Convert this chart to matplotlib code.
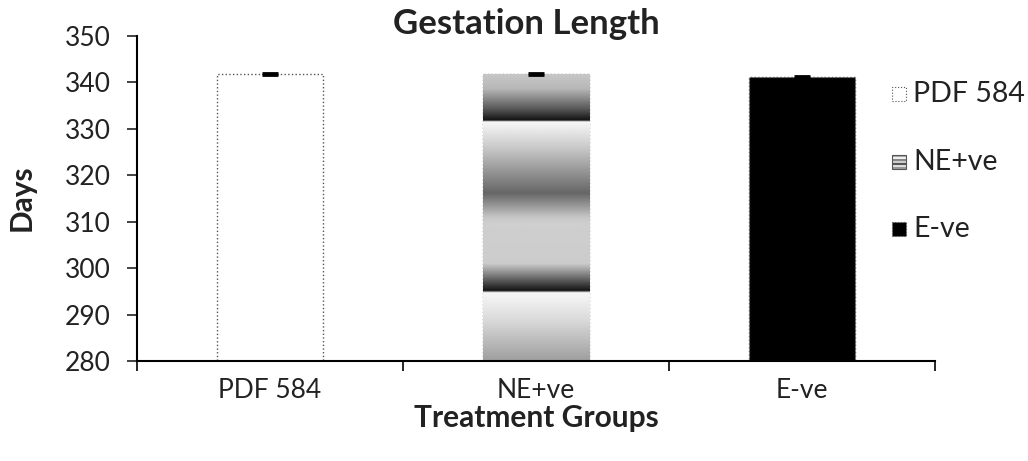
import numpy as np
import matplotlib.pyplot as plt
from matplotlib.patches import Rectangle

plt.rcParams['font.family'] = ['Lato', 'DejaVu Sans']

groups = ['PDF 584', 'NE+ve', 'E-ve']
means = [341.8, 341.8, 341.2]
errors = [0.3, 0.3, 0.15]

W, H = 1028, 461
fig = plt.figure(figsize=(W / 100, H / 100), dpi=100)
ax = fig.add_axes([137 / W, 1 - 361 / H, (935 - 137) / W, (361 - 36) / H])

x = np.arange(len(groups))
bars = ax.bar(x, [m - 280 for m in means], bottom=280, width=0.4,
              color=['white', 'none', 'black'], edgecolor='#555555', linewidth=1, linestyle=':')
ax.errorbar(x, means, yerr=errors, fmt='none', ecolor='black', elinewidth=1, capsize=6, capthick=2)

# banded gradient fill for the middle bar (top -> bottom)
stops = [(0.0, 0.78), (0.05, 0.72), (0.12, 0.35), (0.16, 0.08), (0.166, 0.97),
         (0.26, 0.78), (0.415, 0.40), (0.50, 0.78), (0.52, 0.81), (0.66, 0.80),
         (0.72, 0.35), (0.755, 0.08), (0.762, 0.97), (0.86, 0.85), (1.0, 0.62)]
pos = np.linspace(0, 1, 600)
vals = np.interp(pos, [s[0] for s in stops], [s[1] for s in stops])
img = np.tile(vals[:, None], (1, 10))
b = bars[1]
im = ax.imshow(img, cmap='gray', vmin=0, vmax=1, aspect='auto',
               extent=[b.get_x(), b.get_x() + b.get_width(), 280, means[1]],
               origin='upper', zorder=1.5)
im.set_clip_path(b)

ax.set_xlim(-0.5, 2.5)
ax.set_ylim(280, 350)
ax.set_yticks(range(280, 351, 10))
ax.set_xticks([-0.5, 0.5, 1.5, 2.5], minor=False)
ax.set_xticklabels([])
ax.set_xticks(x, minor=True)
ax.set_xticklabels(groups, minor=True)
ax.tick_params(axis='x', which='major', length=7, width=1.2, direction='out')
ax.tick_params(axis='x', which='minor', length=0, pad=12, labelsize=19, colors='#222222')
ax.tick_params(axis='y', length=7, width=1.2, labelsize=19, pad=12, colors='#222222')
for side in ['top', 'right']:
    ax.spines[side].set_visible(False)
ax.spines['left'].set_linewidth(1.5)
ax.spines['bottom'].set_linewidth(1.5)

fig.text(526 / W, 1 - 24 / H, 'Gestation Length', fontsize=25, fontweight='bold',
         ha='center', va='center', color='#222222')
fig.text(22 / W, 1 - 198 / H, 'Days', fontsize=21.5, fontweight='bold', rotation=90,
         ha='center', va='center', color='#222222')
fig.text(536 / W, 1 - 418 / H, 'Treatment Groups', fontsize=21.5, fontweight='bold',
         ha='center', va='center', color='#222222')

# legend
leg_y = [94, 162, 229]
fills = ['white', 'banded', 'black']
for label, yy, f in zip(groups, leg_y, fills):
    fx = 892 / W
    fy = 1 - (yy + 7) / H
    w, h = 14 / W, 14 / H
    if f == 'banded':
        for i in range(7):
            c = ['#999999', '#dddddd', '#555555', '#cccccc', '#888888', '#eeeeee', '#aaaaaa'][i]
            fig.add_artist(Rectangle((fx, fy + i * h / 7), w, h / 7, transform=fig.transFigure,
                                     facecolor=c, edgecolor='none'))
        fig.add_artist(Rectangle((fx, fy), w, h, transform=fig.transFigure,
                                 facecolor='none', edgecolor='#555555', linewidth=0.8))
    else:
        fig.add_artist(Rectangle((fx, fy), w, h, transform=fig.transFigure,
                                 facecolor=f, edgecolor='#555555', linewidth=0.8, linestyle=':'))
    fig.text(913 / W, 1 - yy / H, label, fontsize=20.5, va='center', ha='left', color='#222222')

fig.savefig('out.png', dpi=100)
